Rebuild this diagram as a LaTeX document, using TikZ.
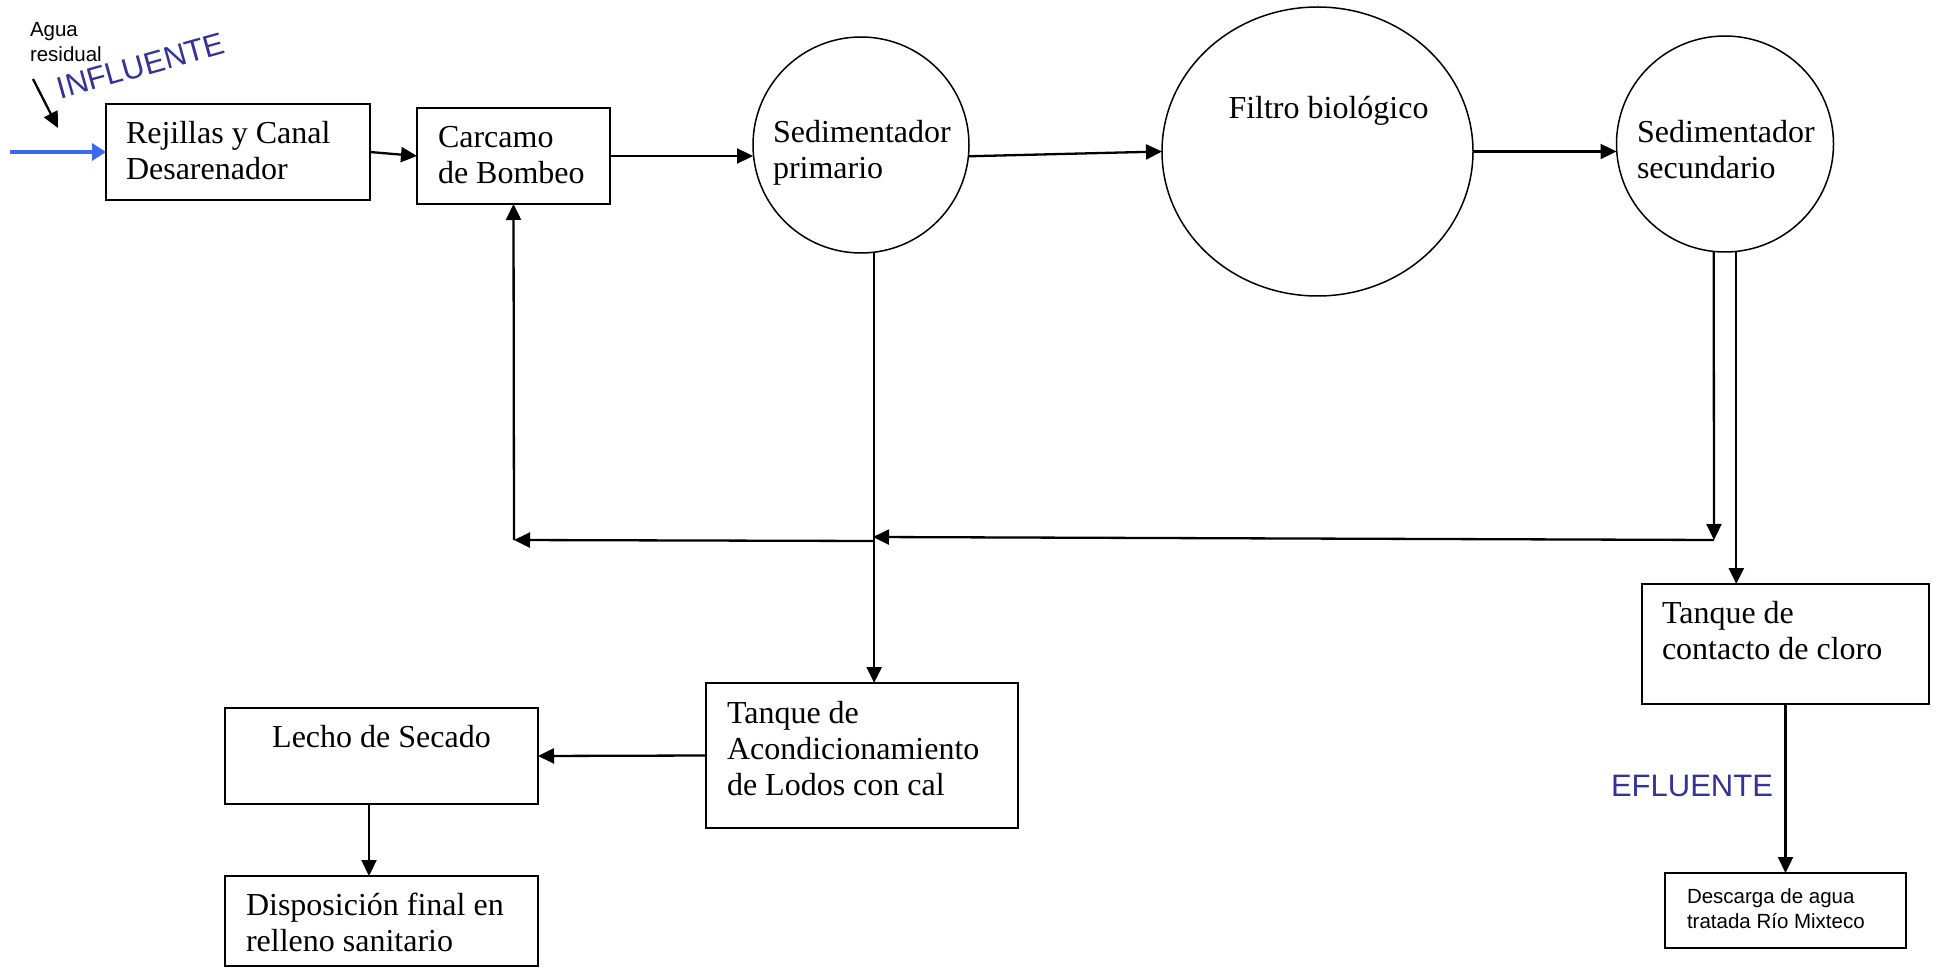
\documentclass[tikz,border=0pt]{standalone}
\usepackage{fontspec}
\setmainfont{Liberation Serif}
\newfontfamily\arialf{Liberation Sans}
\usetikzlibrary{arrows.meta,shapes.geometric,calc}
\definecolor{infblue}{RGB}{51,51,153}
\definecolor{inblue}{RGB}{59,104,240}
\begin{document}
\begin{tikzpicture}[x=1pt,y=-1pt,
  box/.style={draw,line width=1.7pt,rectangle,inner sep=0pt,outer sep=0pt},
  tank/.style={draw,line width=1.5pt,ellipse,inner sep=0pt,outer sep=0pt},
  txt/.style={inner sep=0pt,outer sep=0pt,align=left,anchor=north west,font=\fontsize{32}{36}\selectfont},
  stxt/.style={inner sep=0pt,outer sep=0pt,align=left,anchor=north west,font=\arialf\fontsize{20.5}{25}\selectfont},
  bigsans/.style={inner sep=0pt,outer sep=0pt,text=infblue,font=\arialf\fontsize{31}{36}\selectfont},
  arr/.style={line width=2.3pt,-{Triangle[length=16pt,width=15pt]}},
  inarr/.style={line width=4.5pt,inblue,-{Triangle[length=14pt,width=17pt]}}]
\useasboundingbox (0,0) rectangle (1939,968);

% boxes
\node[box,minimum width=264pt,minimum height=96pt] (rej) at (238,152) {};
\node[box,minimum width=193pt,minimum height=96pt] (car) at (513.5,156) {};
\node[box,minimum width=312pt,minimum height=145pt] (acon) at (862,755.5) {};
\node[box,minimum width=313pt,minimum height=96pt] (lec) at (381.5,756) {};
\node[box,minimum width=313pt,minimum height=90pt] (dis) at (381.5,921) {};
\node[box,minimum width=287pt,minimum height=120pt] (clo) at (1785.5,644) {};
\node[box,minimum width=241pt,minimum height=75pt] (des) at (1785.5,910.5) {};

% tanks
\node[tank,minimum width=216pt,minimum height=216pt] (prim) at (861,145) {};
\node[tank,minimum width=311pt,minimum height=289pt] (filt) at (1317.5,151.5) {};
\node[tank,minimum width=217pt,minimum height=216pt] (sec) at (1725,144) {};

% texts
\node[txt] (trej) at (126,118.8) {\strut Rejillas y Canal\\Desarenador};
\node[txt] (tcar) at (438,122.8) {\strut Carcamo\\de Bombeo};
\node[txt] (tprim) at (773,117.8) {\strut Sedimentador\\primario};
\node[txt,anchor=base] (tfilt) at (1328.5,119) {Filtro biológico};
\node[txt] (tsec) at (1637,117.8) {\strut Sedimentador\\secundario};
\node[txt] (tclo) at (1662,597.8) {\strut Tanque de\\contacto de cloro};
\node[txt] (tacon) at (727,697.8) {\strut Tanque de\\Acondicionamiento\\de Lodos con cal};
\node[txt,anchor=base] (tlec) at (381.5,747) {Lecho de Secado};
\node[txt] (tdis) at (246,889.8) {\strut Disposición final en\\relleno sanitario};
\node[stxt] (tdes) at (1687,885.5) {\strut Descarga de agua\\tratada Río Mixteco};
\node[stxt] (agua) at (30,19.5) {\strut Agua\\residual};
\node[bigsans,rotate=15.6] (influ) at (141,66) {INFLUENTE};
\node[bigsans,anchor=base west] (eflu) at (1611,796) {EFLUENTE};

% junction coordinates
\coordinate (inS) at (10,152);
\coordinate (agS) at (33,79);
\coordinate (agE) at (58,128);
\coordinate (jR) at (1714,540);
\coordinate (jM) at (873,537);
\coordinate (jM2) at (873,541);
\coordinate (jL) at (514,540);

% connectors
\draw[inarr] (inS) -- (rej.west);
\draw[arr] (agS) -- (agE);
\draw[arr] (rej.east) -- (car.west);
\draw[arr] (car.east) -- (prim.west |- car.east);
\draw[arr] (prim.-6.4) -- (filt.west);
\draw[arr] (filt.east) -- (sec.west |- filt.east);
\draw[arr] (sec.-96) -- (jR);
\draw[arr] (sec.-84) -- (sec.-84 |- clo.north);
\draw[arr] (jR) -- (jM);
\draw[arr] (prim.-83.6) -- (prim.-83.6 |- acon.north);
\draw[arr] (jM2) -- (jL);
\draw[arr] (jL) -- (car.south);
\draw[arr] (acon.west) -- (lec.east);
\draw[arr] ([xshift=-12.5pt]lec.south) -- ([xshift=-12.5pt]dis.north);
\draw[arr] (clo.south) -- (des.north);
\end{tikzpicture}
\end{document}
